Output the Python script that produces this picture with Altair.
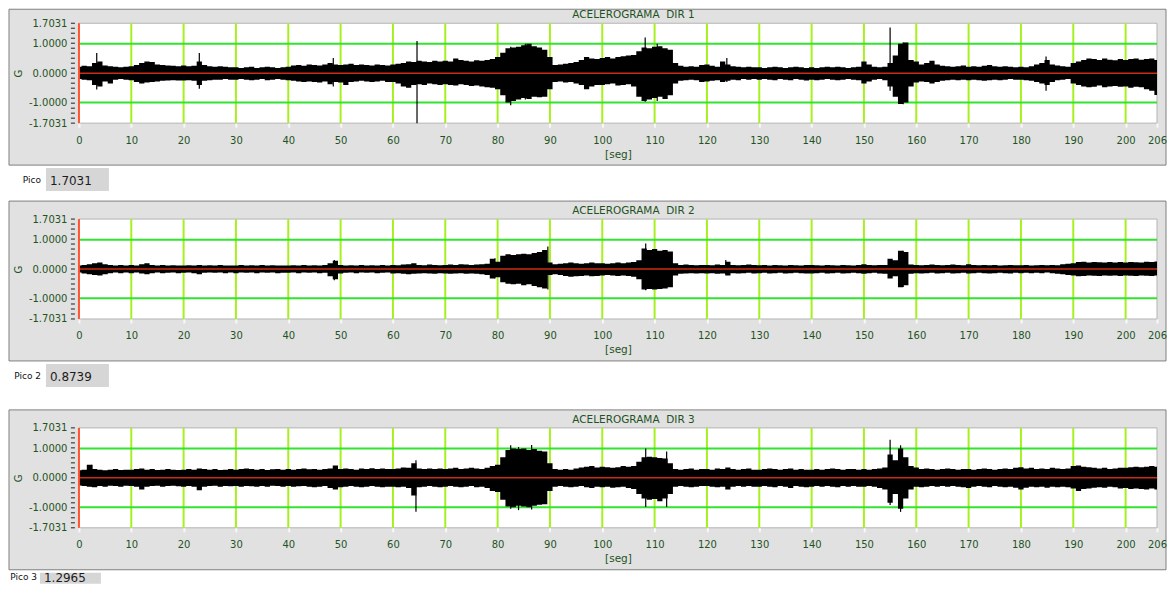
import altair as alt
import pandas as pd

# ---------------- data ----------------
T = list(range(207))  # seconds 0..206

U1 = [.22,.25,.24,.35,.40,.26,.24,.22,.20,.22,
      .24,.28,.35,.40,.38,.30,.28,.26,.25,.24,
      .26,.24,.25,.40,.28,.24,.22,.24,.22,.20,
      .20,.18,.20,.22,.18,.20,.22,.20,.18,.20,
      .22,.26,.28,.25,.30,.28,.26,.30,.35,.30,
      .28,.30,.32,.28,.30,.28,.26,.30,.28,.26,
      .30,.32,.35,.40,.38,.42,.40,.38,.42,.40,
      .42,.40,.50,.45,.42,.40,.44,.42,.45,.48,
      .55,.70,.85,.88,.90,.95,1.0,.92,.88,.80,
      .55,.28,.30,.32,.35,.38,.45,.55,.50,.48,
      .52,.55,.50,.55,.58,.60,.62,.75,.88,.85,
      .90,.92,.85,.80,.35,.25,.22,.24,.22,.28,
      .30,.25,.22,.40,.30,.24,.22,.20,.22,.20,
      .20,.18,.20,.22,.20,.18,.20,.22,.20,.18,
      .20,.18,.20,.22,.20,.22,.20,.18,.20,.22,
      .40,.30,.22,.20,.22,.35,.60,1.0,1.05,.45,
      .40,.30,.35,.42,.30,.25,.24,.22,.24,.26,
      .22,.24,.22,.25,.28,.24,.22,.24,.22,.20,
      .22,.20,.24,.30,.35,.45,.30,.26,.24,.22,
      .35,.40,.45,.50,.48,.45,.50,.46,.44,.48,
      .45,.48,.50,.46,.48,.50,.45]
L1 = [-.20,-.22,-.24,-.40,-.45,-.28,-.35,-.22,-.20,-.22,
      -.24,-.30,-.35,-.32,-.30,-.28,-.26,-.25,-.24,-.25,
      -.25,-.24,-.26,-.40,-.26,-.24,-.22,-.22,-.20,-.22,
      -.22,-.20,-.22,-.24,-.22,-.20,-.24,-.22,-.20,-.22,
      -.24,-.26,-.28,-.30,-.28,-.30,-.32,-.28,-.38,-.30,
      -.32,-.40,-.30,-.28,-.26,-.28,-.30,-.28,-.26,-.30,
      -.30,-.35,-.45,-.50,-.40,-.38,-.40,-.35,-.38,-.40,
      -.38,-.40,-.42,-.38,-.40,-.44,-.42,-.45,-.48,-.50,
      -.55,-.75,-1.0,-.95,-.90,-.85,-.88,-.80,-.82,-.80,
      -.55,-.30,-.28,-.32,-.30,-.35,-.40,-.55,-.45,-.40,
      -.40,-.38,-.35,-.42,-.40,-.38,-.45,-.80,-.95,-.90,
      -.85,-.80,-.88,-.75,-.35,-.26,-.24,-.22,-.24,-.30,
      -.28,-.26,-.24,-.30,-.26,-.22,-.24,-.20,-.22,-.20,
      -.22,-.20,-.22,-.24,-.20,-.22,-.24,-.20,-.22,-.25,
      -.22,-.24,-.22,-.20,-.22,-.24,-.22,-.20,-.22,-.24,
      -.35,-.28,-.22,-.20,-.24,-.45,-.80,-1.05,-1.0,-.45,
      -.32,-.28,-.30,-.35,-.30,-.26,-.24,-.22,-.24,-.22,
      -.24,-.22,-.24,-.26,-.24,-.22,-.24,-.22,-.20,-.22,
      -.22,-.24,-.26,-.30,-.35,-.40,-.30,-.24,-.22,-.20,
      -.35,-.40,-.45,-.48,-.46,-.42,-.48,-.45,-.44,-.46,
      -.45,-.50,-.46,-.48,-.55,-.60,-.74]
S1_T = [3.4, 23.0, 48.6, 64.6, 82.5, 85.3, 108.2, 110.5, 123.8, 155.0, 157.5, 184.8]
S1_HI = [0.69, 0.69, 0.52, 1.10, 0.90, 1.00, 1.22, 1.00, 0.52, 1.56, 1.05, 0.57]
S1_LO = [-0.56, -0.53, -0.45, -1.7031, -1.09, -0.90, -0.97, -0.95, -0.30, -0.60, -1.06, -0.60]

U2 = [.12,.14,.16,.20,.22,.16,.14,.12,.14,.12,
      .14,.12,.16,.20,.14,.12,.14,.12,.13,.12,
      .12,.13,.12,.14,.12,.13,.12,.14,.12,.12,
      .12,.14,.12,.13,.12,.14,.12,.13,.12,.12,
      .12,.13,.12,.14,.12,.13,.12,.14,.20,.28,
      .14,.12,.13,.12,.14,.12,.13,.12,.14,.12,
      .14,.13,.15,.16,.20,.14,.13,.15,.14,.13,
      .14,.15,.14,.16,.15,.14,.15,.16,.18,.35,
      .25,.45,.50,.48,.50,.52,.50,.55,.58,.65,
      .22,.16,.18,.20,.22,.20,.18,.20,.22,.20,
      .20,.18,.20,.22,.20,.22,.24,.30,.70,.65,
      .68,.62,.65,.60,.20,.14,.15,.14,.13,.14,
      .14,.13,.15,.14,.25,.14,.13,.14,.15,.14,
      .13,.14,.12,.14,.13,.12,.14,.13,.12,.14,
      .14,.13,.12,.14,.13,.12,.14,.13,.12,.14,
      .16,.14,.13,.14,.14,.35,.30,.62,.58,.15,
      .14,.13,.14,.15,.14,.13,.14,.15,.14,.13,
      .16,.14,.13,.14,.13,.14,.12,.13,.14,.13,
      .13,.14,.12,.13,.14,.13,.14,.13,.16,.18,
      .20,.24,.25,.22,.24,.23,.22,.24,.22,.24,
      .22,.24,.23,.22,.25,.24,.26]
L2 = [-.12,-.15,-.18,-.20,-.22,-.18,-.14,-.12,-.14,-.12,
      -.14,-.12,-.15,-.18,-.14,-.12,-.14,-.13,-.12,-.14,
      -.13,-.12,-.14,-.18,-.13,-.12,-.13,-.12,-.14,-.12,
      -.14,-.12,-.13,-.12,-.14,-.12,-.13,-.12,-.14,-.13,
      -.13,-.12,-.14,-.12,-.13,-.12,-.14,-.13,-.25,-.35,
      -.15,-.13,-.12,-.14,-.12,-.13,-.12,-.14,-.13,-.12,
      -.15,-.14,-.16,-.18,-.16,-.15,-.14,-.15,-.16,-.14,
      -.15,-.16,-.15,-.14,-.16,-.15,-.16,-.18,-.20,-.32,
      -.28,-.45,-.50,-.52,-.50,-.55,-.52,-.58,-.62,-.66,
      -.20,-.18,-.20,-.24,-.26,-.25,-.24,-.22,-.25,-.24,
      -.22,-.20,-.22,-.24,-.22,-.24,-.26,-.35,-.70,-.68,
      -.70,-.68,-.66,-.62,-.22,-.16,-.15,-.14,-.15,-.14,
      -.15,-.14,-.16,-.15,-.22,-.14,-.15,-.14,-.13,-.15,
      -.14,-.13,-.15,-.14,-.13,-.15,-.14,-.13,-.14,-.15,
      -.15,-.14,-.13,-.15,-.14,-.13,-.15,-.14,-.13,-.14,
      -.16,-.14,-.13,-.15,-.16,-.32,-.25,-.62,-.55,-.16,
      -.14,-.15,-.14,-.13,-.15,-.14,-.13,-.15,-.14,-.13,
      -.15,-.14,-.13,-.14,-.15,-.14,-.13,-.14,-.15,-.13,
      -.14,-.13,-.14,-.13,-.14,-.12,-.14,-.16,-.18,-.20,
      -.22,-.25,-.24,-.22,-.23,-.24,-.22,-.23,-.22,-.24,
      -.22,-.23,-.24,-.22,-.23,-.24,-.22]
S2_T = [48.8, 79.5, 89.6, 108.3, 123.6, 157.5]
S2_HI = [0.31, 0.37, 0.77, 0.8739, 0.31, 0.62]
S2_LO = [-0.38, -0.32, -0.70, -0.72, -0.18, -0.61]

U3 = [.26,.28,.45,.30,.28,.26,.28,.30,.27,.28,
      .28,.30,.32,.28,.30,.27,.28,.30,.28,.27,
      .28,.30,.28,.32,.30,.28,.30,.27,.28,.30,
      .28,.30,.32,.30,.28,.30,.27,.29,.30,.28,
      .30,.28,.30,.32,.29,.30,.28,.30,.32,.42,
      .30,.32,.30,.28,.32,.30,.33,.30,.32,.30,
      .30,.32,.35,.34,.50,.32,.30,.32,.30,.32,
      .30,.32,.34,.30,.32,.34,.32,.30,.34,.40,
      .45,.70,.95,1.0,.98,1.0,.95,.98,.92,.90,
      .50,.30,.28,.30,.28,.32,.35,.38,.40,.35,
      .38,.36,.34,.36,.40,.38,.40,.55,.70,.72,
      .70,.68,.66,.50,.30,.28,.30,.32,.28,.30,
      .30,.28,.32,.30,.35,.30,.28,.30,.32,.28,
      .28,.30,.32,.30,.28,.30,.32,.28,.30,.28,
      .28,.30,.28,.30,.32,.30,.28,.30,.30,.28,
      .30,.28,.30,.32,.35,.80,.60,1.0,.70,.40,
      .35,.30,.32,.30,.28,.30,.32,.30,.28,.30,
      .30,.28,.30,.32,.30,.28,.30,.32,.30,.34,
      .36,.32,.34,.30,.32,.30,.34,.32,.30,.32,
      .40,.42,.38,.36,.34,.32,.34,.30,.32,.34,
      .34,.36,.38,.36,.38,.40,.38]
L3 = [-.26,-.28,-.30,-.32,-.28,-.30,-.27,-.28,-.30,-.27,
      -.28,-.30,-.40,-.30,-.28,-.27,-.30,-.28,-.27,-.29,
      -.30,-.28,-.30,-.42,-.30,-.28,-.27,-.30,-.28,-.29,
      -.28,-.30,-.28,-.29,-.30,-.28,-.30,-.27,-.28,-.30,
      -.28,-.30,-.29,-.28,-.30,-.32,-.30,-.28,-.35,-.40,
      -.32,-.30,-.28,-.30,-.32,-.30,-.28,-.30,-.32,-.30,
      -.30,-.32,-.30,-.35,-.60,-.32,-.30,-.28,-.30,-.32,
      -.30,-.28,-.30,-.32,-.30,-.28,-.32,-.30,-.35,-.45,
      -.48,-.75,-.98,-1.0,-.95,-.98,-1.0,-.95,-.92,-.90,
      -.45,-.30,-.28,-.30,-.32,-.30,-.28,-.32,-.35,-.30,
      -.32,-.30,-.34,-.32,-.30,-.35,-.38,-.55,-.70,-.75,
      -.72,-.80,-.70,-.55,-.30,-.28,-.30,-.32,-.30,-.28,
      -.28,-.30,-.32,-.30,-.40,-.30,-.28,-.30,-.28,-.30,
      -.30,-.28,-.30,-.32,-.28,-.30,-.35,-.28,-.30,-.32,
      -.30,-.28,-.30,-.28,-.30,-.32,-.28,-.30,-.28,-.30,
      -.30,-.28,-.30,-.35,-.40,-.85,-.55,-1.05,-.70,-.40,
      -.30,-.32,-.30,-.28,-.30,-.28,-.30,-.28,-.30,-.32,
      -.35,-.30,-.28,-.30,-.32,-.28,-.30,-.32,-.30,-.34,
      -.40,-.34,-.30,-.32,-.30,-.34,-.30,-.32,-.30,-.32,
      -.36,-.45,-.38,-.36,-.34,-.32,-.34,-.30,-.32,-.36,
      -.35,-.38,-.36,-.38,-.40,-.36,-.40]
S3_T = [2.5, 64.4, 82.5, 84.0, 86.5, 108.3, 112.3, 155.0, 157.0]
S3_HI = [0.45, 0.60, 1.11, 1.05, 1.12, 1.00, 0.90, 1.2965, 1.11]
S3_LO = [-0.30, -1.16, -1.05, -1.10, -1.08, -0.99, -0.99, -0.93, -1.16]

TITLES = ["ACELEROGRAMA\u00a0 DIR 1", "ACELEROGRAMA\u00a0 DIR 2", "ACELEROGRAMA\u00a0 DIR 3"]
PICO_LABELS = ["Pico", "Pico 2", "Pico 3"]
PICO_VALUES = ["1.7031", "0.8739", "1.2965"]

X_TICKS = [0, 10, 20, 30, 40, 50, 60, 70, 80, 90, 100, 110, 120, 130, 140,
           150, 160, 170, 180, 190, 200, 206]
GRID_X = [10, 20, 30, 40, 50, 60, 70, 80, 90, 100, 110, 120, 130, 140,
          150, 160, 170, 180, 190, 200]
Y_TICKS = [-1.7031, -1.0, 0.0, 1.0, 1.7031]
GRID_Y = [-1.0, 1.0]
MINOR_Y = [-1.7031, -1.5328, -1.3625, -1.1922, -1.0219, -0.8516, -0.6812,
           -0.5109, -0.3406, -0.1703, 0.0, 0.1703, 0.3406, 0.5109, 0.6812,
           0.8516, 1.0219, 1.1922, 1.3625, 1.5328, 1.7031]

# ---------------- styling ----------------
W, H = 1079, 100
FONT = "DejaVu Sans"
GREEN = "#1f531f"
xs = alt.Scale(domain=[0, 206], nice=False, zero=False)
ys = alt.Scale(domain=[-1.7031, 1.7031], nice=False, zero=False)
ONE = pd.DataFrame({"k": [0]})

XAXIS = alt.Axis(values=X_TICKS, format="d", labelFlush=False, labelOverlap=False,
                 labelColor=GREEN, labelFont=FONT, labelFontSize=10, labelPadding=8,
                 tickColor="#f8f8f8", tickSize=4, tickWidth=2, domain=False, grid=False,
                 title="[seg]", titleColor=GREEN, titleFont=FONT, titleFontSize=10.5,
                 titleFontWeight="normal", titlePadding=4, zindex=1)
YAXIS = alt.Axis(values=Y_TICKS,
                 labelExpr="datum.value < 0 ? '-' + format(-datum.value, '.4f') : format(datum.value, '.4f')",
                 labelColor=GREEN, labelFont=FONT, labelFontSize=10, labelPadding=12,
                 ticks=False, tickSize=0, domain=False, grid=False,
                 title="G", titleColor=GREEN, titleFont=FONT, titleFontSize=10,
                 titleFontWeight="normal", titlePadding=5, zindex=1)


def X(f):
    return alt.X(f, scale=xs, axis=XAXIS)


def Y(f):
    return alt.Y(f, scale=ys, axis=YAXIS)


def panel(i, upper, lower, st, shi, slo, top_ext, bottom_ext, lbl_x,
          box_x1, box_x2, box_y2, text_y):
    layers = []
    if bottom_ext is not None:
        layers.append(alt.Chart(ONE).mark_rect(fill="white").encode(
            x=alt.value(0), x2=alt.value(10), y=alt.value(150), y2=alt.value(bottom_ext)))
    layers.append(alt.Chart(ONE).mark_rect(fill="#e1e1e1", stroke="#808080", strokeWidth=1).encode(
        x=alt.value(-70), x2=alt.value(1088), y=alt.value(top_ext), y2=alt.value(142)))
    layers.append(alt.Chart(ONE).mark_rect(fill="white", stroke="#b4b4b4", strokeWidth=1).encode(
        x=alt.value(0), x2=alt.value(W), y=alt.value(0), y2=alt.value(H)))
    layers.append(alt.Chart(pd.DataFrame({"t": GRID_X})).mark_rule(color="#a6f020", strokeWidth=2).encode(
        x=X("t:Q"), y=alt.value(0), y2=alt.value(H)))
    layers.append(alt.Chart(pd.DataFrame({"hi": GRID_Y})).mark_rule(color="#30e430", strokeWidth=2).encode(
        y=Y("hi:Q"), x=alt.value(0), x2=alt.value(W)))
    layers.append(alt.Chart(pd.DataFrame({"hi": MINOR_Y})).mark_rule(color="#202020", strokeWidth=1).encode(
        y=Y("hi:Q"), x=alt.value(-8), x2=alt.value(-4)))
    df = pd.DataFrame({"t": T, "hi": upper, "lo": lower})
    layers.append(alt.Chart(df).mark_area(color="black", interpolate="step").encode(
        x=X("t:Q"), y=Y("hi:Q"), y2=alt.Y2("lo:Q")))
    sdf = pd.DataFrame({"t": st, "hi": shi, "lo": slo})
    layers.append(alt.Chart(sdf).mark_rule(color="black", strokeWidth=1.2).encode(
        x=X("t:Q"), y=Y("hi:Q"), y2=alt.Y2("lo:Q")))
    layers.append(alt.Chart(pd.DataFrame({"hi": [0.0]})).mark_rule(color="#cc2c16", strokeWidth=1.5).encode(
        y=Y("hi:Q"), x=alt.value(0), x2=alt.value(W)))
    layers.append(alt.Chart(ONE).mark_rule(color="#ff5432", strokeWidth=2).encode(
        x=alt.value(0), y=alt.value(0), y2=alt.value(H)))
    layers.append(alt.Chart(pd.DataFrame({"s": [TITLES[i]]})).mark_text(
        font=FONT, fontSize=10.5, color=GREEN, align="center", baseline="middle").encode(
        text="s:N", x=alt.value(555), y=alt.value(-8)))
    layers.append(alt.Chart(pd.DataFrame({"s": [PICO_LABELS[i]]})).mark_text(
        font=FONT, fontSize=9, color="#111111", align="right", baseline="middle").encode(
        text="s:N", x=alt.value(lbl_x), y=alt.value(text_y - 1)))
    layers.append(alt.Chart(ONE).mark_rect(fill="#d6d6d6").encode(
        x=alt.value(box_x1), x2=alt.value(box_x2), y=alt.value(145), y2=alt.value(box_y2)))
    layers.append(alt.Chart(pd.DataFrame({"s": [PICO_VALUES[i]]})).mark_text(
        font=FONT, fontSize=12, color="#1c1c1c", align="left", baseline="middle").encode(
        text="s:N", x=alt.value(box_x1 + 4), y=alt.value(text_y)))
    return alt.layer(*layers).properties(width=W, height=H)


p1 = panel(0, U1, L1, S1_T, S1_HI, S1_LO, -14, None, -38, -33, 30, 168, 158)
p2 = panel(1, U2, L2, S2_T, S2_HI, S2_LO, -18, 181, -38, -33, 30, 168, 158)
p3 = panel(2, U3, L3, S3_T, S3_HI, S3_LO, -18, None, -42, -39, 22, 156, 150)

chart = alt.vconcat(p1, p2, p3, spacing=9, bounds="full").properties(
    padding={"left": 0, "top": 0, "right": 0, "bottom": 0}, background="white"
).configure_view(strokeWidth=0).configure_axis(zindex=1)

chart.save("out.html", embed_options={"renderer": "svg", "actions": False})
